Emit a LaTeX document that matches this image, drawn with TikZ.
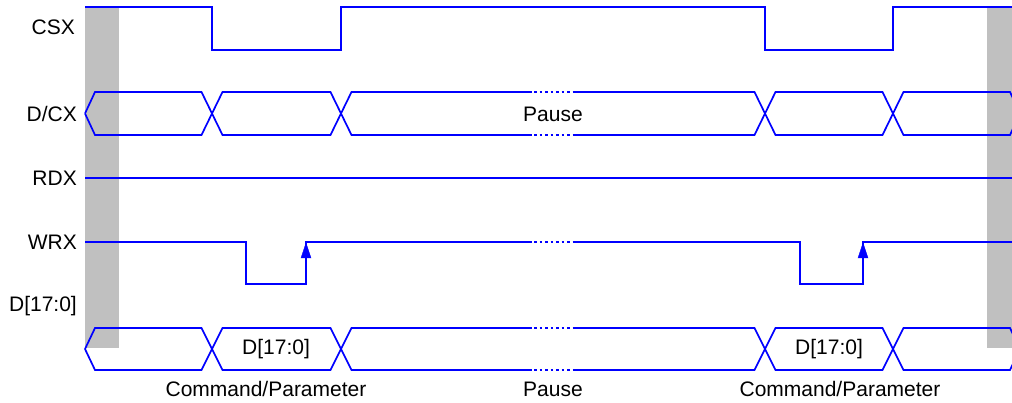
\documentclass[tikz,border=0pt]{standalone}
\usepackage{fontspec}
\setmainfont{Liberation Sans}
\usetikzlibrary{arrows.meta}
\definecolor{sig}{RGB}{0,0,255}
\definecolor{graybar}{RGB}{192,192,192}
\begin{document}
\begin{tikzpicture}[x=1pt,y=-1pt,
  wave/.style={draw=sig,line width=1.7pt,line join=miter},
  dotwave/.style={draw=sig,line width=1.7pt,dash pattern=on 2.5pt off 3pt},
  lbl/.style={font=\fontsize{21}{23}\selectfont,inner sep=0pt},
  sig label/.style={lbl,anchor=east}]
\useasboundingbox (0,0) rectangle (1012,403);
% gray bars
\fill[graybar] (85,7) rectangle (119,348);
\fill[graybar] (987,7) rectangle (1012,348);
% signal labels
\node[sig label] (lcsx) at (75,27) {CSX};
\node[sig label] (ldcx) at (77,114) {D/CX};
\node[sig label] (lrdx) at (77,178) {RDX};
\node[sig label] (lwrx) at (77,242) {WRX};
\node[sig label] (ld) at (77,306) {D[17:0]};
% CSX
\draw[wave] (85,7) -- (212,7) -- (212,50) -- (341,50) -- (341,7) -- (765,7) -- (765,50) -- (893,50) -- (893,7) -- (1012,7);
% buses
\foreach \t/\b in {92/135, 328/370}{
  \pgfmathsetmacro{\m}{(\t+\b)/2}
  \begin{scope}
  \clip (0,0) rectangle (1012,403);
  \draw[wave] (85,\m) -- (95,\t) -- (201.5,\t) -- (222.5,\b) -- (330.5,\b) -- (351.5,\t) -- (754.5,\t) -- (775.5,\b) -- (882.5,\b) -- (903.5,\t) -- (1010,\t) -- (1020,\m);
  \draw[wave] (85,\m) -- (95,\b) -- (201.5,\b) -- (222.5,\t) -- (330.5,\t) -- (351.5,\b) -- (754.5,\b) -- (775.5,\t) -- (882.5,\t) -- (903.5,\b) -- (1010,\b) -- (1020,\m);
  \end{scope}
  \fill[white] (532,\t-3) rectangle (575,\t+3);
  \fill[white] (532,\b-3) rectangle (575,\b+3);
  \draw[dotwave] (534,\t) -- (575,\t);
  \draw[dotwave] (534,\b) -- (575,\b);
}
% RDX
\draw[wave] (85,178) -- (1012,178);
% WRX
\draw[wave] (85,242) -- (246,242) -- (246,284) -- (306,284) -- (306,242) -- (532,242);
\draw[dotwave] (534,242) -- (575,242);
\draw[wave] (575,242) -- (800,242) -- (800,284) -- (863,284) -- (863,242) -- (1012,242);
\draw[draw=sig,fill=sig] (301,258) -- (311,258) -- (306,243) -- cycle;
\draw[draw=sig,fill=sig] (858,258) -- (868,258) -- (863,243) -- cycle;
% bus labels
\node[lbl] (pause1) at (553,114) {Pause};
\node[lbl] (d1) at (276,349) {D[17:0]};
\node[lbl] (d2) at (829,349) {D[17:0]};
% bottom labels
\node[lbl] (cp1) at (266,389) {Command/Parameter};
\node[lbl] (pause2) at (553,389) {Pause};
\node[lbl] (cp2) at (840,389) {Command/Parameter};
\end{tikzpicture}
\end{document}
